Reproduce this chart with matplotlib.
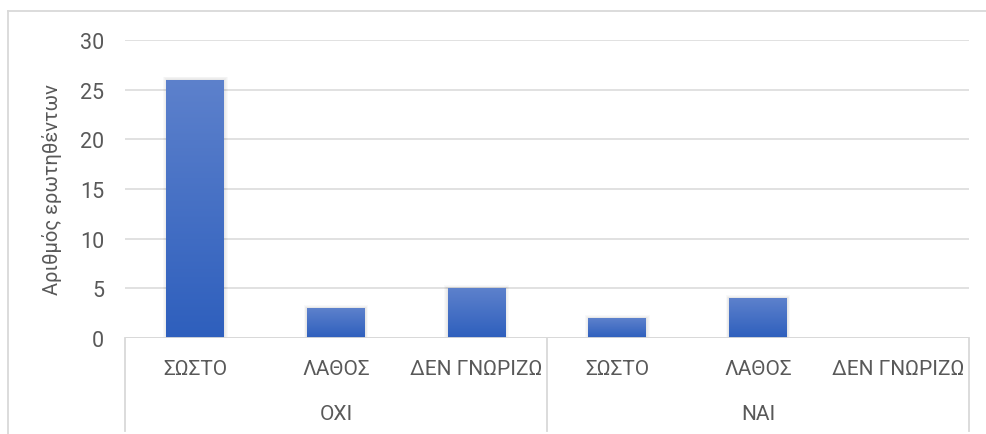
#!/usr/bin/env python3
"""
Grafico de barras com eixo de categorias em dois niveis (estilo Excel).
Salva em out.png.
"""
import numpy as np
import matplotlib
matplotlib.use("Agg")
import matplotlib.pyplot as plt
from matplotlib.lines import Line2D
from matplotlib.patches import Rectangle
from matplotlib.colors import LinearSegmentedColormap

# ---- dados ----
grupos = ["ΟΧΙ", "ΝΑΙ"]
respostas = ["ΣΩΣΤΟ", "ΛΑΘΟΣ", "ΔΕΝ ΓΝΩΡΙΖΩ"]
valores_oxi = [26, 3, 5]
valores_nai = [2, 4, 0]
yticks = [0, 5, 10, 15, 20, 25, 30]
ylabel = "Αριθμός ερωτηθέντων"

cinza_txt = "#595959"
cinza_linha = "#d9d9d9"
azul_topo = "#5d81cc"
azul_base = "#2e5fbd"

plt.rcParams["font.family"] = ["Roboto", "DejaVu Sans"]


def main():
    valores = valores_oxi + valores_nai
    rotulos = respostas * len(grupos)
    x = np.arange(len(valores))

    fig = plt.figure(figsize=(9.87, 4.35), dpi=100)
    W, H = 987, 435
    ax = fig.add_axes([125 / W, 1 - 339 / H, (969 - 125) / W, (339 - 41) / H])

    # moldura externa do grafico
    fig.add_artist(Line2D([8 / W, 8 / W], [0, 1 - 12 / H], color=cinza_linha,
                          lw=1.3, transform=fig.transFigure))
    fig.add_artist(Line2D([8 / W, 1], [1 - 12 / H, 1 - 12 / H], color=cinza_linha,
                          lw=1.3, transform=fig.transFigure))

    # grade
    ax.set_yticks(yticks)
    ax.yaxis.grid(True, color=cinza_linha, lw=1.1)
    ax.set_axisbelow(True)
    for s in ax.spines.values():
        s.set_visible(False)

    # barras com gradiente (claro em cima, escuro embaixo)
    cmap = LinearSegmentedColormap.from_list("grad", [azul_base, azul_topo])
    grad = np.linspace(0, 1, 256).reshape(-1, 1)
    barras = ax.bar(x, valores, width=0.41, color="none", zorder=3)
    for b in barras:
        h = b.get_height()
        if h <= 0:
            continue
        x0 = b.get_x()
        w = b.get_width()
        # sombra suave
        for k in range(1, 5):
            ax.add_patch(Rectangle((x0 - 0.006 * k, 0), w + 0.012 * k, h + 0.08 * k,
                                   color="#000000", alpha=0.025, lw=0, zorder=2))
        im = ax.imshow(grad, cmap=cmap, origin="lower", aspect="auto",
                       extent=(x0, x0 + w, 0, h), zorder=3,
                       interpolation="bicubic")
        im.set_clip_path(b)
    ax.set_xlim(-0.5, len(valores) - 0.5)
    ax.set_ylim(0, 30)

    # linha do zero
    ax.axhline(0, color=cinza_linha, lw=1.3, zorder=4)

    # eixo de categorias em dois niveis
    ax.set_xticks(x, rotulos)
    ax.tick_params(axis="x", length=0, pad=15, labelsize=15, labelcolor=cinza_txt)
    ax.tick_params(axis="y", length=0, pad=15, labelsize=15.5, labelcolor=cinza_txt)

    tr = ax.get_xaxis_transform()
    n = len(respostas)
    fundo = (339 - 432) / (339 - 41)
    for i in range(len(grupos) + 1):
        xs = i * n - 0.5
        ax.plot([xs, xs], [0, fundo], color=cinza_linha, lw=1.3,
                transform=tr, clip_on=False)
    for i, g in enumerate(grupos):
        ax.text(i * n + (n - 1) / 2, (339 - 415) / (339 - 41), g, transform=tr,
                ha="center", va="center", fontsize=15, color=cinza_txt)

    ax.set_ylabel(ylabel, fontsize=14.5, color=cinza_txt)
    ax.yaxis.set_label_coords((62 - 125) / (969 - 125), 0.5)

    fig.savefig("out.png", dpi=100, facecolor="white")


if __name__ == "__main__":
    main()
